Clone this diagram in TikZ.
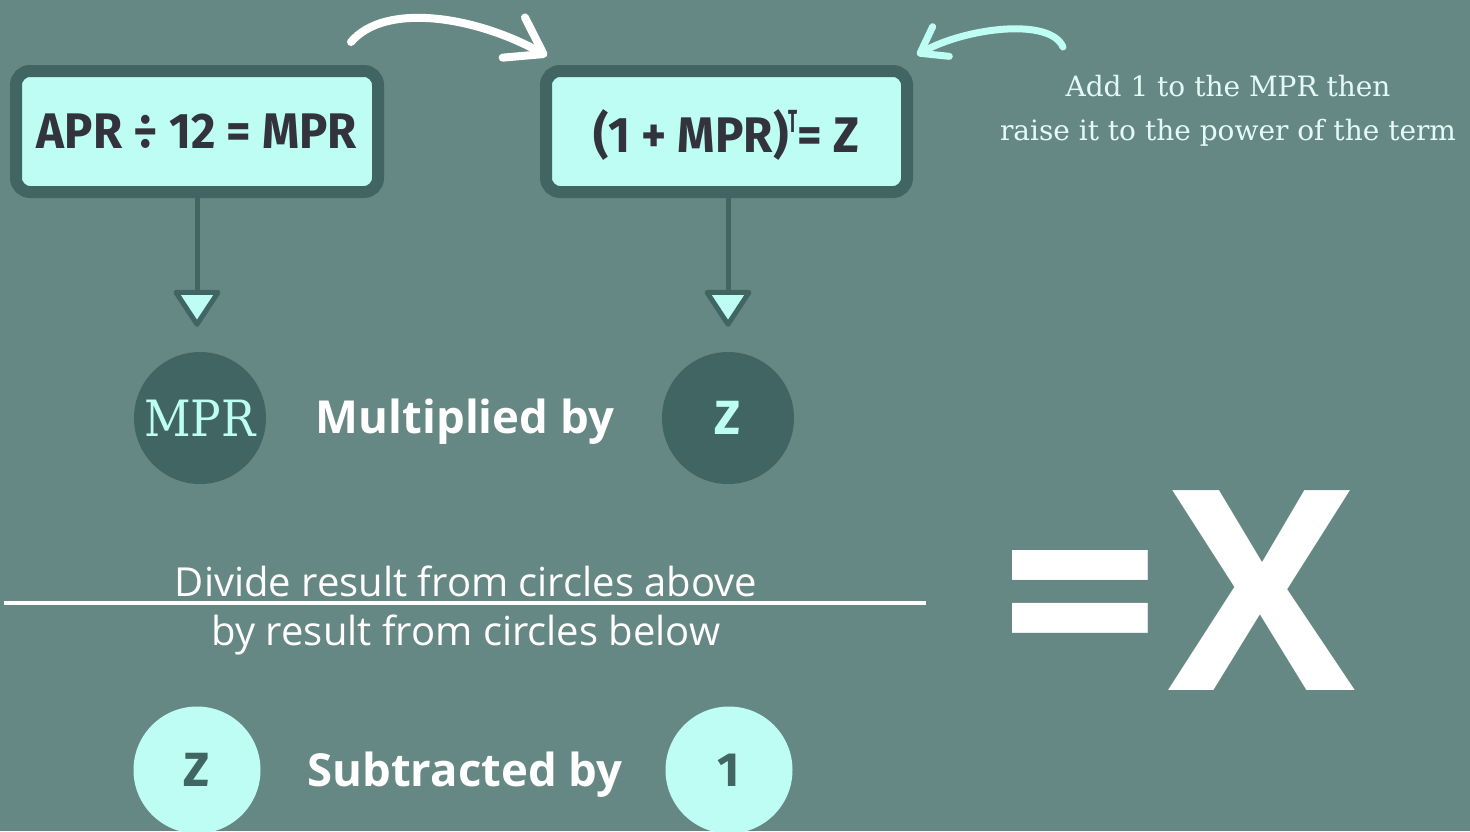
\documentclass[tikz,border=0pt]{standalone}
\usepackage{fontspec}
\setmainfont{Open Sans}
\newfontfamily\fira{Fira Sans}
\newfontfamily\slab{DejaVu Serif}
\usetikzlibrary{arrows.meta}
\definecolor{bgc}{RGB}{102,136,132}
\definecolor{darkc}{RGB}{65,101,99}
\definecolor{lightc}{RGB}{189,253,243}
\definecolor{txtc}{RGB}{51,51,61}
\definecolor{annoc}{RGB}{228,250,246}
\newcommand{\supT}{\raisebox{20pt}{\fontsize{32}{32}\selectfont\scalebox{0.55}[1]{T}}}
\begin{document}
\begin{tikzpicture}[x=1pt,y=-1pt,
  formbox/.style={draw=darkc, line width=12pt, fill=lightc, rounded corners=14pt,
    minimum width=362pt, minimum height=121pt, inner sep=0pt, text=txtc,
    text depth=0pt, font=\fira\bfseries\fontsize{50}{56}\selectfont},
  darkcirc/.style={circle, fill=darkc, minimum size=132pt, inner sep=0pt, text=lightc},
  lightcirc/.style={circle, fill=lightc, minimum size=127pt, inner sep=0pt, text=darkc,
    font=\fira\bfseries\fontsize{48}{52}\selectfont},
  conn/.style={draw=darkc, line width=5pt, shorten >=25pt,
    -{Triangle[length=39pt,width=50pt,fill=lightc,round]}},
  lbl/.style={text=white, font=\bfseries\fontsize{45.5}{50}\selectfont, inner sep=0pt},
  note/.style={text=white, font=\fontsize{40}{46}\selectfont, inner sep=0pt, anchor=base},
  anno/.style={text=annoc, font=\slab\fontsize{28}{34}\selectfont, inner sep=0pt, anchor=base},
  brush/.style={line width=8pt, line cap=round, line join=round}
]
\useasboundingbox (0,0) rectangle (1470,831);
\fill[bgc] (0,0) rectangle (1470,831);

% boxes
\node[formbox] (box1) at (197,131.5) {\scalebox{0.945}[1]{APR ÷ 12 = MPR}};
\node[formbox, minimum width=361pt] (box2) at (726.5,131.5) {\scalebox{0.95}[1]{(1 + MPR)\supT= Z}\hspace{9pt}};

% upper circles
\node[darkcirc, font=\slab\fontsize{50}{56}\selectfont] (mpr) at (200,418) {\scalebox{0.91}[1]{MPR}};
\node[darkcirc, font=\fira\bfseries\fontsize{48}{52}\selectfont] (zc) at (728,418) {Z};
\node[lbl] (mult) at (465,422) {Multiplied by};

% connectors
\draw[conn] (box1.south) -- (box1.south |- mpr.north);
\draw[conn] (zc.north |- box2.south) -- (zc.north);

% fraction
\coordinate (barL) at (4,603);
\coordinate (barR) at (926,603);
\draw[white, line width=4pt] (barL) -- (barR);
\node[note] (n1) at (466,596) {Divide result from circles above};
\node[note] (n2) at (466,645) {by result from circles below};

% lower circles
\node[lightcirc] (z2) at (197,770) {Z};
\node[lightcirc] (one) at (729,770) {1};
\node[lbl] (sub) at (465,775) {Subtracted by};

% result
\node[text=white, font=\bfseries\fontsize{280}{300}\selectfont, inner sep=0pt, anchor=base] (res) at (1178,690) {=\kern8pt X};

% annotation
\node[anno] (a1) at (1228,96) {Add 1 to the MPR then};
\node[anno] (a2) at (1228,140) {raise it to the power of the term};

% curved arrows
\coordinate (c1s) at (351,42);
\coordinate (c1e) at (547,56);
\draw[white, brush, -{Straight Barb[length=34pt,width=46pt,line width=8pt,round]}]
  (c1s) .. controls (385,2) and (475,16) .. (c1e);
\coordinate (c2s) at (1063,47);
\coordinate (c2e) at (917,55);
\draw[lightc, brush, line width=7pt, -{Straight Barb[length=24pt,width=34pt,line width=7pt,round]}]
  (c2s) .. controls (1050,17) and (965,28) .. (c2e);
\end{tikzpicture}
\end{document}
